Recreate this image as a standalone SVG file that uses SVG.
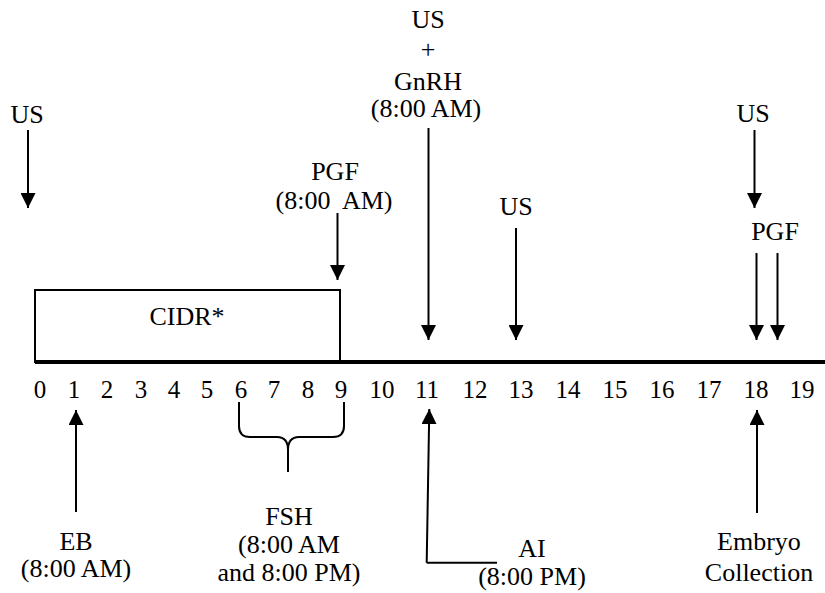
<svg xmlns="http://www.w3.org/2000/svg" width="825" height="593" viewBox="0 0 825 593">
<defs>
<marker id="ah" markerUnits="userSpaceOnUse" markerWidth="15" markerHeight="15" refX="15" refY="7.5" orient="auto">
<path d="M0,0 L15,7.5 L0,15 z" fill="#000"/>
</marker>
<style>
text{font-size:26px;fill:#000;text-anchor:middle}
.num{font-size:25px}
.ln{stroke:#000;stroke-width:2;fill:none}
.ar{stroke:#000;stroke-width:2;fill:none;marker-end:url(#ah)}
</style>
</defs>
<rect width="825" height="593" fill="#fff"/>
<g font-family="Liberation Serif, Times New Roman, serif">
<g id="cidr">
<rect x="35" y="290" width="305" height="72" class="ln"/>
<text x="187" y="325">CIDR*</text>
</g>

<g id="timeline">
<line x1="35" y1="362" x2="825" y2="362" stroke="#000" stroke-width="4"/>
<text class="num" y="398">
<tspan x="40">0</tspan><tspan x="74">1</tspan><tspan x="107">2</tspan><tspan x="141">3</tspan><tspan x="174">4</tspan><tspan x="207">5</tspan><tspan x="241">6</tspan><tspan x="274">7</tspan><tspan x="308">8</tspan><tspan x="341">9</tspan><tspan x="382">10</tspan><tspan x="427">11</tspan><tspan x="475">12</tspan><tspan x="521">13</tspan><tspan x="568">14</tspan><tspan x="615">15</tspan><tspan x="662">16</tspan><tspan x="709">17</tspan><tspan x="756">18</tspan><tspan x="802">19</tspan>
</text>
</g>

<g id="us0"><text x="27" y="123">US</text></g>
<g id="pgf9"><text x="335" y="180">PGF</text><text x="334" y="209" xml:space="preserve">(8:00  AM)</text></g>
<g id="gnrh11"><text x="428" y="28">US</text><text x="428" y="58">+</text><text x="428" y="90">GnRH</text><text x="426" y="117">(8:00 AM)</text></g>
<g id="us13"><text x="516" y="215">US</text></g>
<g id="us18"><text x="753" y="122">US</text></g>
<g id="pgf18"><text x="775" y="240">PGF</text></g>
<g id="eb"><text x="76" y="550">EB</text><text x="76" y="577">(8:00 AM)</text></g>
<g id="fsh"><text x="289" y="525">FSH</text><text x="289" y="553">(8:00 AM</text><text x="289" y="581">and 8:00 PM)</text></g>
<g id="ai"><text x="532" y="557">AI</text><text x="532" y="585">(8:00 PM)</text></g>
<g id="embryo"><text x="759" y="550">Embryo</text><text x="759" y="581">Collection</text></g>
</g>
<g id="connectors">
<line x1="28" y1="130" x2="28" y2="208" class="ar"/>
<line x1="337.5" y1="213" x2="337.5" y2="280" class="ar"/>
<line x1="428.5" y1="128" x2="428.5" y2="340" class="ar"/>
<line x1="516" y1="228" x2="516" y2="340" class="ar"/>
<line x1="754.5" y1="130" x2="754.5" y2="208" class="ar"/>
<line x1="756.5" y1="253" x2="756.5" y2="340" class="ar"/>
<line x1="777.5" y1="253" x2="777.5" y2="340" class="ar"/>
<line x1="76" y1="512" x2="76" y2="410" class="ar"/>
<line x1="426.7" y1="562.7" x2="429.3" y2="409" class="ar"/>
<line x1="426.7" y1="562.7" x2="497" y2="562.7" class="ln"/>
<line x1="757" y1="513" x2="757" y2="410" class="ar"/>
<path d="M239,402 L239,426 Q239,437 250,437 L277,437 Q288,437 288,450 L288,472 M344,402 L344,426 Q344,437 333,437 L299,437 Q288,437 288,450" class="ln"/>
</g>
</svg>
